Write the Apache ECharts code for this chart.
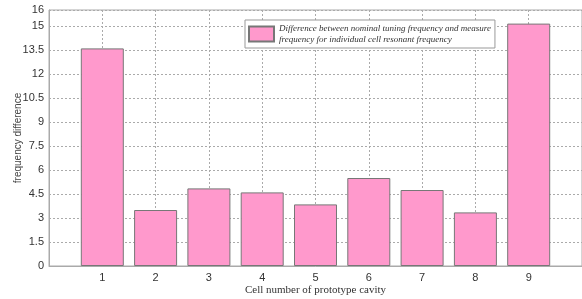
<!DOCTYPE html>
<html>
<head>
<meta charset="utf-8">
<script src="https://cdn.jsdelivr.net/npm/echarts@6/dist/echarts.min.js"></script>
<style>
  html, body { margin: 0; padding: 0; background: #fff; }
  #chart { width: 582px; height: 299px; }
</style>
</head>
<body>
<div id="chart"></div>
<script>
// cell numbers and measured frequency difference
const cells = [1, 2, 3, 4, 5, 6, 7, 8, 9];
const freqDiff = [13.6, 3.5, 4.85, 4.6, 3.85, 5.5, 4.75, 3.35, 15.15];
const legendText = 'Difference between nominal tuning frequency and measure\nfrequency for individual cell resonant frequency';

const chart = echarts.init(document.getElementById('chart'));

const gridLine = { show: true, lineStyle: { color: '#aaa', type: [2, 2], width: 1 } };

chart.setOption({
  backgroundColor: '#ffffff',
  animation: false,
  grid: {
    left: 49, right: 0, top: 10, bottom: 33,
    outerBoundsMode: 'none',
    containLabel: false,
    show: true, borderColor: '#aaa', borderWidth: 1
  },
  legend: {
    data: [{ name: 'diff', icon: 'rect' }],
    left: 245, top: 20,
    itemWidth: 25, itemHeight: 15,
    backgroundColor: '#fff',
    borderColor: '#999', borderWidth: 1,
    padding: [3, 4, 3, 3],
    itemGap: 2,
    formatter: () => legendText,
    textStyle: {
      fontFamily: 'Liberation Serif', fontStyle: 'italic',
      fontSize: 9, color: '#333', lineHeight: 11
    }
  },
  xAxis: {
    type: 'value',
    min: 0, max: 10, interval: 1,
    name: 'Cell number of prototype cavity',
    nameLocation: 'middle', nameGap: 19,
    nameMoveOverlap: false,
    nameTextStyle: { fontFamily: 'Liberation Serif', fontSize: 11, color: '#333' },
    axisLine: { show: true, lineStyle: { color: '#aaa' } },
    axisTick: { show: false },
    axisLabel: {
      showMinLabel: false, showMaxLabel: false,
      fontFamily: 'Liberation Sans', fontSize: 11, color: '#333', margin: 6
    },
    splitLine: gridLine
  },
  yAxis: {
    type: 'value',
    min: 0, max: 16, interval: 1.5,
    name: 'frequency difference',
    nameLocation: 'middle', nameGap: 26, nameRotate: 90,
    nameMoveOverlap: false,
    nameTextStyle: { fontFamily: 'Liberation Sans', fontSize: 10, color: '#444' },
    axisLine: { show: true, lineStyle: { color: '#aaa' } },
    axisTick: { show: false },
    axisLabel: { fontFamily: 'Liberation Sans', fontSize: 11, color: '#333', margin: 5 },
    splitLine: gridLine
  },
  series: [{
    name: 'diff',
    type: 'bar',
    barWidth: 43,
    data: cells.map((c, i) => [c, freqDiff[i]]),
    itemStyle: { color: '#ff99cc', borderColor: '#777', borderWidth: 1 }
  }]
});
</script>
</body>
</html>
